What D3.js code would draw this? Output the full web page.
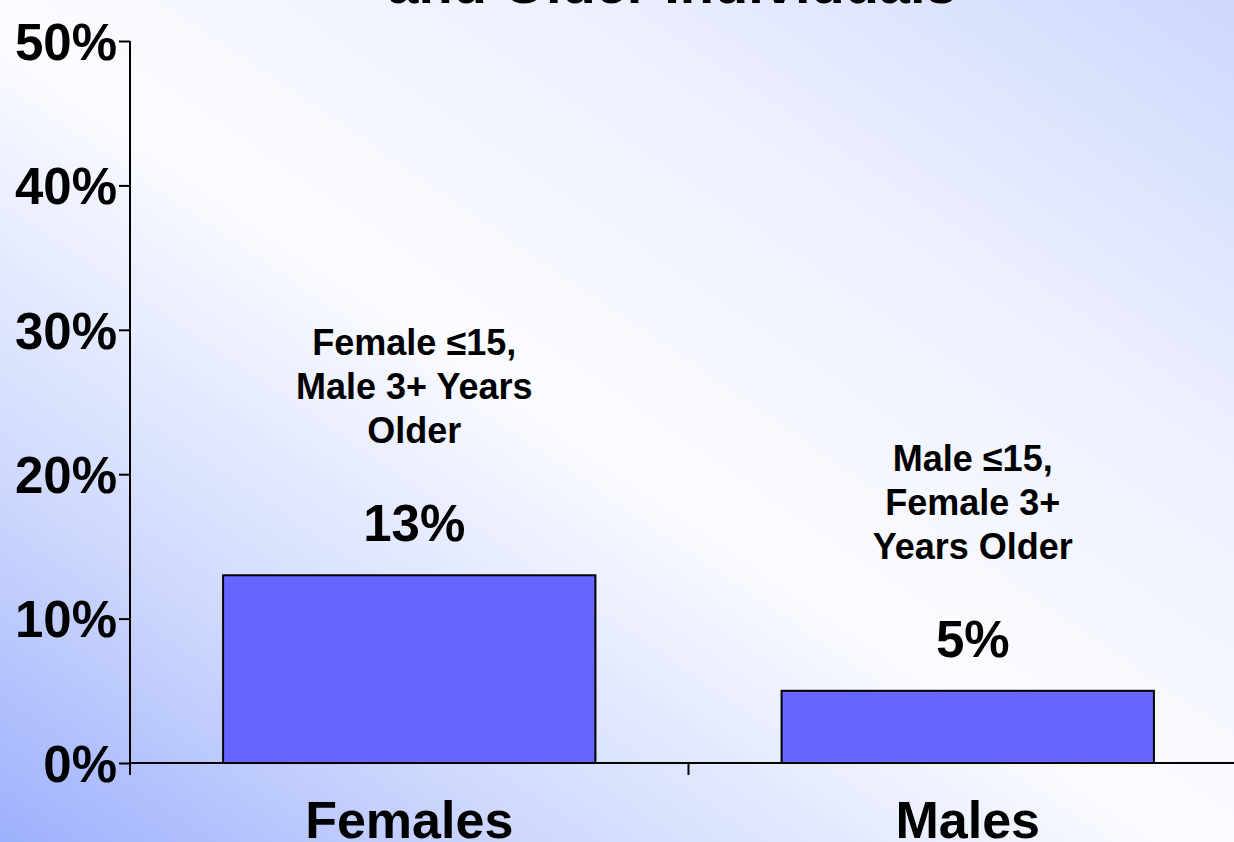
<!DOCTYPE html>
<html>
<head>
<meta charset="utf-8">
<script src="https://cdn.jsdelivr.net/npm/d3@7"></script>
<style>
  html, body { margin: 0; padding: 0; overflow: hidden; }
  svg { display: block; font-family: "Liberation Sans", Arial, sans-serif; font-weight: bold; }
</style>
</head>
<body>
<svg></svg>
<script>
const svgWidth = 1234;
const svgHeight = 842;

// data
const categories = ["Females", "Males"];
const values = [13, 5];
const valueLabels = ["13%", "5%"];
const notes = [
	["Female \u226415,", "Male 3+ Years", "Older"],
	["Male \u226415,", "Female 3+", "Years Older"]
];
const yTicks = [0, 10, 20, 30, 40, 50];
const titleText = "and Older Individuals";

const svg = d3.select("svg")
				.attr("width", svgWidth)
				.attr("height", svgHeight);

// background gradient
const grad = svg.append("defs")
				.append("linearGradient")
				.attr("id", "bg")
				.attr("x1", 0).attr("y1", 1)
				.attr("x2", 1).attr("y2", 0);
grad.append("stop").attr("offset", 0).attr("stop-color", "#9db0fd");
grad.append("stop").attr("offset", 0.22).attr("stop-color", "#cfd9fd");
grad.append("stop").attr("offset", 0.48).attr("stop-color", "#fbfcff");
grad.append("stop").attr("offset", 0.72).attr("stop-color", "#eef1fe");
grad.append("stop").attr("offset", 1).attr("stop-color", "#cdd8fc");

svg.append("rect")
		.attr("width", svgWidth)
		.attr("height", svgHeight)
		.attr("fill", "url(#bg)");

let xScale = d3.scaleBand()
				.domain(categories)
				.range([130, 1247])
				.paddingInner(1 / 3)
				.paddingOuter(1 / 6);

let yScale = d3.scaleLinear()
				.domain([0, 50])
				.range([763, 41]);

// title, cut off at the top edge
svg.append("text")
		.text(titleText)
		.attr("x", 672)
		.attr("y", 3)
		.attr("font-size", 56)
		.attr("text-anchor", "middle");

// bars
svg.selectAll(".bar")
		.data(values)
		.enter()
		.append("rect")
		.classed("bar", true)
		.attr("x", (d, i) => xScale(categories[i]))
		.attr("y", d => yScale(d))
		.attr("width", xScale.bandwidth())
		.attr("height", d => yScale(0) - yScale(d))
		.attr("fill", "#6666ff")
		.attr("stroke", "#000")
		.attr("stroke-width", 2);

// y axis
let yAxis = d3.axisLeft(yScale)
				.tickValues(yTicks)
				.tickFormat(d => d + "%")
				.tickSize(11)
				.tickPadding(2)
				.tickSizeOuter(0);

let yG = svg.append("g")
		.attr("transform", "translate(130, 0)")
		.call(yAxis);
yG.select(".domain").attr("stroke-width", 2).attr("d", `M0,${yScale(50)}V775`);
yG.selectAll(".tick line").attr("stroke-width", 2);
yG.selectAll(".tick text")
		.attr("font-size", 51)
		.attr("font-family", "'Liberation Sans', Arial, sans-serif")
		.attr("font-weight", "bold")
		.attr("fill", "#000")
		.attr("dy", "0.36em");

// x axis
let xAxis = d3.axisBottom(xScale)
				.tickSize(0)
				.tickPadding(38)
				.tickSizeOuter(0);

let xG = svg.append("g")
		.attr("transform", "translate(0, 763)")
		.call(xAxis);
xG.select(".domain").attr("stroke-width", 2).attr("d", `M130,0H${svgWidth}`);
xG.selectAll(".tick text")
		.attr("font-size", 52)
		.attr("font-family", "'Liberation Sans', Arial, sans-serif")
		.attr("font-weight", "bold")
		.attr("fill", "#000")
		.attr("dy", "0.71em");

// divider tick between the two categories
svg.append("line")
		.attr("x1", xScale.range()[0] + xScale.step())
		.attr("x2", xScale.range()[0] + xScale.step())
		.attr("y1", 763)
		.attr("y2", 775)
		.attr("stroke", "#000")
		.attr("stroke-width", 2);

// value labels and notes above the bars
let labels = svg.selectAll(".label")
		.data(values)
		.enter()
		.append("g")
		.classed("label", true)
		.attr("transform", (d, i) => `translate(${xScale(categories[i]) + xScale.bandwidth() / 2 + 5}, ${yScale(d) - 34})`);

labels.append("text")
		.text((d, i) => valueLabels[i])
		.attr("font-size", 51)
		.attr("text-anchor", "middle");

labels.append("text")
		.attr("font-size", 36)
		.attr("text-anchor", "middle")
		.selectAll("tspan")
		.data((d, i) => notes[i])
		.enter()
		.append("tspan")
		.attr("x", 0)
		.attr("y", (d, j) => -186 + j * 44)
		.text(d => d);
</script>
</body>
</html>
